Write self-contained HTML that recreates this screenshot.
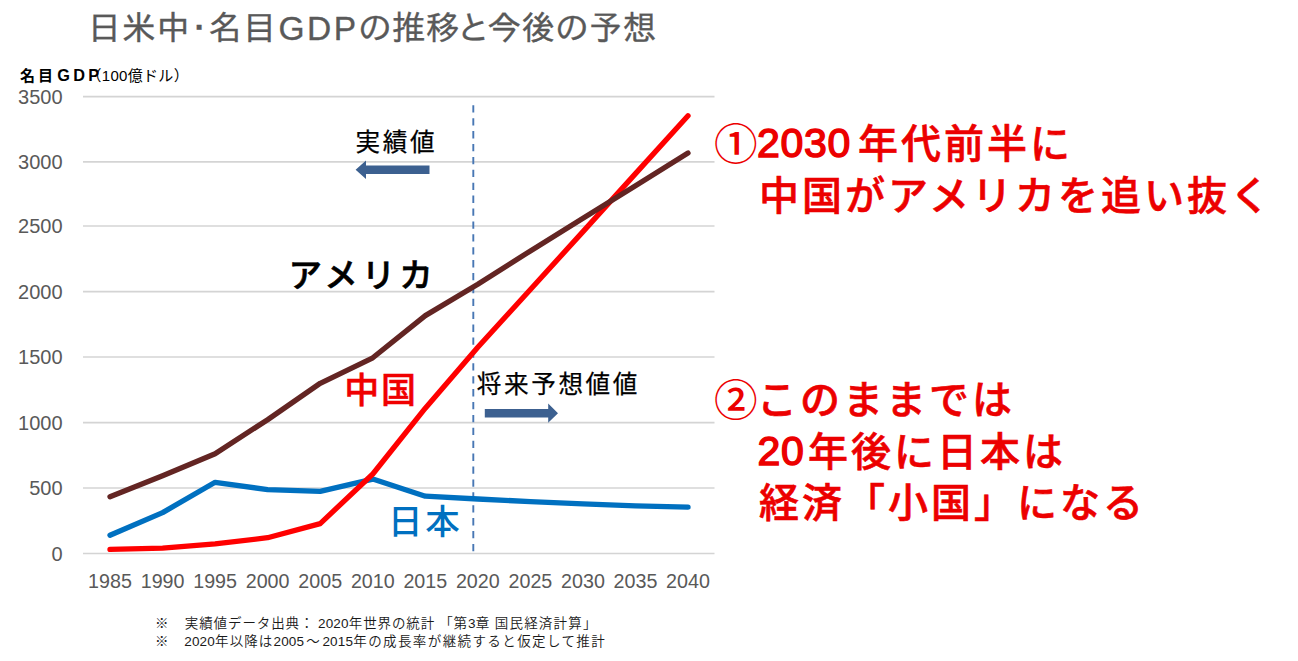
<!DOCTYPE html>
<html lang="ja">
<head>
<meta charset="utf-8">
<title>日米中･名目GDPの推移と今後の予想</title>
<style>
html,body{margin:0;padding:0;background:#fff;}
body{width:1298px;height:661px;position:relative;overflow:hidden;font-family:"Liberation Sans","Noto Sans CJK JP",sans-serif;}
.abs{position:absolute;white-space:nowrap;line-height:1;}
svg{position:absolute;left:0;top:0;}
.title{left:87.5px;top:11px;font-size:34px;letter-spacing:0.4px;color:#595959;-webkit-text-stroke:0.35px #595959;font-family:"Liberation Sans","IPAPGothic","IPAGothic","Noto Sans CJK JP",sans-serif;}
.title .g{font-size:33.5px;letter-spacing:2.6px;margin-left:1.5px;margin-right:-0.3px;}
.title .t2{letter-spacing:0.15px;}
.unit{left:20px;top:66.5px;font-size:15px;color:#000;}
.unit b{letter-spacing:3px;font-weight:700;font-size:15px;}
.unit b i{font-style:normal;font-size:16.3px;letter-spacing:3.3px;margin-left:1.3px;}
.unit .p{margin-left:-16px;letter-spacing:0.3px;}
.yl{position:absolute;left:0;width:62.6px;text-align:right;font-size:20px;line-height:24px;height:24px;color:#595959;white-space:nowrap;}
.xl{position:absolute;top:569px;width:60px;text-align:center;font-size:19.7px;line-height:24px;color:#595959;white-space:nowrap;}
.lab20{font-size:24.6px;letter-spacing:2.6px;color:#000;font-weight:400;-webkit-text-stroke:0.25px #000;}
.b28{font-size:33.5px;letter-spacing:4px;font-weight:500;-webkit-text-stroke:0.6px currentColor;}
.note{left:155px;font-size:13.5px;letter-spacing:1.1px;color:#1a1a1a;font-weight:350;}
.note .n{letter-spacing:0.2px;}
.red{color:#ec0000;font-weight:500;font-size:40px;letter-spacing:3px;-webkit-text-stroke:0.6px #ec0000;}
.red .d{font-size:41px;letter-spacing:0.7px;font-weight:400;-webkit-text-stroke:1.5px #ec0000;margin-right:7px;position:relative;top:-1px;}
.red .d2{margin-right:3.6px;margin-left:-1.5px;}
.red .c{font-weight:500;font-size:43.6px;-webkit-text-stroke:0;letter-spacing:0;display:inline-block;width:43px;margin-left:-2px;vertical-align:-2px;}
</style>
</head>
<body>
<svg width="1298" height="661" viewBox="0 0 1298 661">
<g stroke="#d4d4d4" stroke-width="1.6" fill="none">
<line x1="83" x2="714.5" y1="553.5" y2="553.5"/>
<line x1="83" x2="714.5" y1="488.0" y2="488.0"/>
<line x1="83" x2="714.5" y1="422.6" y2="422.6"/>
<line x1="83" x2="714.5" y1="357.0" y2="357.0"/>
<line x1="83" x2="714.5" y1="291.6" y2="291.6"/>
<line x1="83" x2="714.5" y1="226.0" y2="226.0"/>
<line x1="83" x2="714.5" y1="161.9" y2="161.9"/>
<line x1="83" x2="714.5" y1="96.6" y2="96.6"/>
</g>
<line x1="473.3" x2="473.3" y1="105.3" y2="553.4" stroke="#4877b4" stroke-width="1.9" stroke-dasharray="7.3 5.6"/>
<g fill="none" stroke-width="5.3" stroke-linecap="round" stroke-linejoin="round">
<polyline stroke="#0070c0" points="110.0,535.2 162.6,512.6 215.1,482.3 267.6,489.6 320.2,491.3 372.8,479.1 425.3,496.2 477.8,499.0 530.4,501.6 583.0,503.9 635.5,505.8 688.0,507.1"/>
<polyline stroke="#ff0000" points="110.0,549.4 162.6,548.2 215.1,543.9 267.6,537.7 320.2,523.6 372.8,474.0 425.3,408.2 477.8,347.2 530.4,289.5 583.0,231.6 635.5,173.6 688.0,115.7"/>
<polyline stroke="#632523" points="110.0,496.8 162.6,475.7 215.1,453.7 267.6,419.7 320.2,383.3 372.8,357.8 425.3,315.6 477.8,284.3 530.4,250.9 583.0,218.3 635.5,185.8 688.0,153.1"/>
</g>
<polygon fill="#3c6090" points="355.6,169.7 366,160.4 366,165.4 429.5,165.4 429.5,174.1 366,174.1 366,179.1"/>
<polygon fill="#3c6090" points="558,413.2 548.2,403.6 548.2,409.1 484.8,409.1 484.8,417.4 548.2,417.4 548.2,422.8"/>
</svg>
<div class="abs title">日米中･名目<span class="g">GDP</span><span class="t2">の推移と今後の予想</span></div>
<div class="abs unit"><b>名目<i>GDP</i></b><span class="p">（100億ドル）</span></div>
<div class="yl" style="top:541.7px">0</div>
<div class="yl" style="top:476.2px">500</div>
<div class="yl" style="top:410.8px">1000</div>
<div class="yl" style="top:345.2px">1500</div>
<div class="yl" style="top:279.8px">2000</div>
<div class="yl" style="top:214.2px">2500</div>
<div class="yl" style="top:150.1px">3000</div>
<div class="yl" style="top:84.8px">3500</div>
<div class="xl" style="left:80.0px">1985</div>
<div class="xl" style="left:132.6px">1990</div>
<div class="xl" style="left:185.1px">1995</div>
<div class="xl" style="left:237.6px">2000</div>
<div class="xl" style="left:290.2px">2005</div>
<div class="xl" style="left:342.8px">2010</div>
<div class="xl" style="left:395.3px">2015</div>
<div class="xl" style="left:447.8px">2020</div>
<div class="xl" style="left:500.4px">2025</div>
<div class="xl" style="left:553.0px">2030</div>
<div class="xl" style="left:605.5px">2035</div>
<div class="xl" style="left:658.0px">2040</div>
<div class="abs lab20" style="left:355.5px;top:130.5px;">実績値</div>
<div class="abs b28" style="left:288.5px;top:259px;color:#000;">アメリカ</div>
<div class="abs b28" style="left:344.2px;top:373px;color:#f00000;font-size:35px;font-weight:500;letter-spacing:1.8px;-webkit-text-stroke:0.5px #f00000;">中国</div>
<div class="abs lab20" style="left:476.8px;top:372.5px;">将来予想値値</div>
<div class="abs b28" style="left:388px;top:504.5px;color:#0070c0;-webkit-text-stroke:0;font-size:34.5px;letter-spacing:2.8px;">日本</div>
<div class="abs note" style="top:617px;letter-spacing:0.9px;">※<span style="margin-left:1px">　</span>実績値データ出典：<span class="n" style="margin-left:3.5px">2020</span>年世界の統計<span style="margin-left:4px">「</span>第<span class="n">3</span>章 <span style="letter-spacing:1.2px">国民経済計算」</span></div>
<div class="abs note" style="top:634.5px;">※　<span class="n">2020</span>年以降は<span class="n">2005</span><span style="margin:0 1.5px 0 2px">～</span><span class="n">2015</span><span style="letter-spacing:1.4px">年の成長率が継続すると仮定して推計</span></div>
<div class="abs red" style="left:716px;top:124px;"><span class="c">①</span><span class="d">2030</span>年代前半に</div>
<div class="abs red" style="left:716px;top:175.5px;">　中国がアメリカを追い抜く</div>
<div class="abs red" style="left:716px;top:380px;"><span class="c">②</span>このままでは</div>
<div class="abs red" style="left:716px;top:432px;">　<span class="d d2">20</span>年後に日本は</div>
<div class="abs red" style="left:716px;top:483px;">　経済「小国」になる</div>
</body>
</html>
